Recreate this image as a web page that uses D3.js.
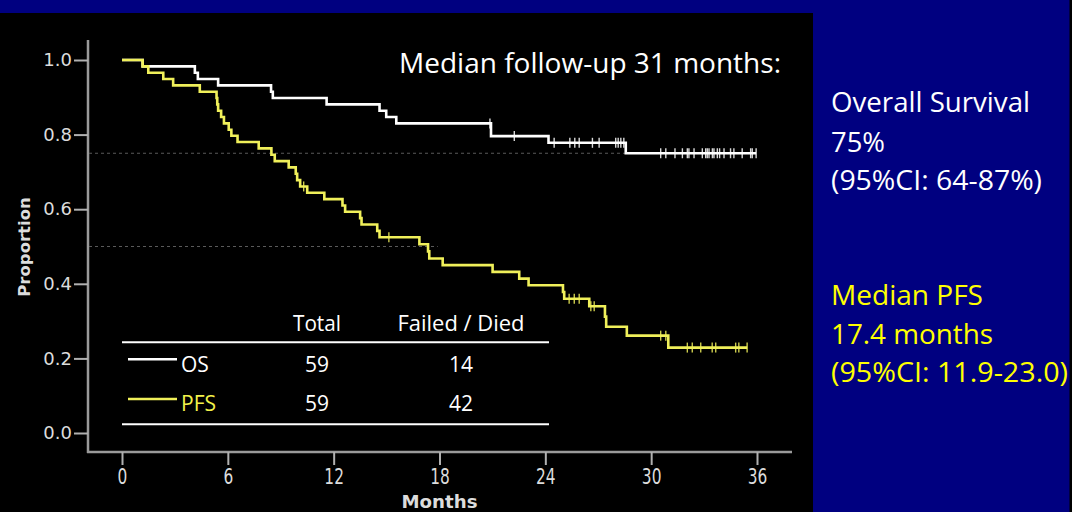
<!DOCTYPE html>
<html>
<head>
<meta charset="utf-8">
<script src="https://cdn.jsdelivr.net/npm/d3@7"></script>
<style>
  html, body { margin: 0; padding: 0; background: #000080; }
  svg { display: block; }
</style>
</head>
<body>
<svg id="chart" width="1072" height="512"></svg>
<script>
// Axis ticks
const monthTicks = [0, 6, 12, 18, 24, 30, 36];
const proportionTicks = [0, 0.2, 0.4, 0.6, 0.8, 1.0];

// Overall survival: Kaplan-Meier steps (months, proportion surviving)
const osTimes    = [0, 1.17, 4.13, 4.30, 5.45, 8.45, 8.55, 11.60, 14.60, 14.98, 15.55, 20.92, 24.18, 28.56];
const osSurvival = [1.000, 0.983, 0.966, 0.949, 0.932, 0.915, 0.898, 0.881, 0.864, 0.847, 0.830, 0.796, 0.778, 0.750];
const osLastFollowUp = 35.95;
const osCensored = [20.86, 22.24, 24.50, 25.39, 25.67, 25.92, 26.67, 27.05, 27.99, 28.13, 28.28, 28.45,
                    30.54, 30.83, 31.35, 31.77, 32.05, 32.14, 32.43, 32.90, 33.09, 33.18, 33.28, 33.47,
                    33.56, 33.75, 33.88, 34.13, 34.50, 34.69, 35.16, 35.64, 35.73, 35.95];

// Progression-free survival: Kaplan-Meier steps
const pfsTimes    = [0, 1.17, 1.49, 2.34, 2.90, 4.41, 5.36, 5.40, 5.45, 5.62, 5.78, 6.05, 6.20, 6.55,
                     7.75, 8.47, 8.66, 9.45, 9.85, 9.93, 10.10, 10.50, 11.47, 12.50, 12.65, 13.50, 13.58,
                     14.47, 14.60, 16.86, 17.35, 17.42, 18.18, 21.01, 22.52, 23.05, 25.00, 25.07, 26.49,
                     27.38, 27.45, 28.62, 30.97];
const pfsSurvival = [1.000, 0.983, 0.966, 0.949, 0.932, 0.915, 0.898, 0.881, 0.864, 0.847, 0.830, 0.813, 0.797, 0.780,
                     0.763, 0.746, 0.729, 0.712, 0.695, 0.678, 0.661, 0.644, 0.627, 0.610, 0.593, 0.576, 0.559,
                     0.542, 0.525, 0.506, 0.487, 0.468, 0.450, 0.432, 0.414, 0.396, 0.378, 0.360, 0.340,
                     0.312, 0.285, 0.261, 0.229];
const pfsLastFollowUp = 35.44;
const pfsCensored = [10.30, 15.13, 25.35, 25.64, 25.92, 26.58, 26.77, 30.54, 30.83,
                     32.05, 32.33, 32.81, 33.46, 33.66, 34.79, 34.97, 35.44];

// Dotted guides: survival level and where each guide stops (months)
const guideLevels = [0.75, 0.5];
const guideEnds = [28.56, 17.9];

// Summary table
const tableSeries = ["OS", "PFS"];
const tableTotal = [59, 59];
const tableFailed = [14, 42];
const tableHeaders = ["Total", "Failed / Died"];

// Annotations
const headline = "Median follow-up 31 months:";
const osSummary = ["Overall Survival", "75%", "(95%CI: 64-87%)"];
const pfsSummary = ["Median PFS", "17.4 months", "(95%CI: 11.9-23.0)"];

const osColor = "#ffffff";
const pfsColor = "#f0f05a";
const calloutFont = "'Open Sans', 'Noto Sans', sans-serif";
const axisFont = "'DejaVu Sans', sans-serif";

const svg = d3.select("#chart");

// Backgrounds: navy slide, black chart panel
svg.append("rect").attr("width", 1072).attr("height", 512).attr("fill", "#000080");
svg.append("rect").attr("x", 0).attr("y", 13).attr("width", 813).attr("height", 499).attr("fill", "#000");
svg.append("rect").attr("x", 1069.5).attr("y", 0).attr("width", 2.5).attr("height", 512).attr("fill", "#000");

const x = d3.scaleLinear().domain([0, 36]).range([122, 757]);
const y = d3.scaleLinear().domain([0, 1]).range([433, 60]);

// Axis frame
svg.append("line").attr("x1", 88).attr("x2", 88).attr("y1", 40).attr("y2", 453)
  .attr("stroke", "#9a9a9a").attr("stroke-width", 2.5);
svg.append("line").attr("x1", 87).attr("x2", 792).attr("y1", 452).attr("y2", 452)
  .attr("stroke", "#9a9a9a").attr("stroke-width", 2.5);

const gy = svg.append("g").attr("transform", "translate(88,0)")
  .call(d3.axisLeft(y).tickValues(proportionTicks).tickFormat(d3.format(".1f")).tickSize(14).tickPadding(2));
gy.select(".domain").remove();
gy.selectAll(".tick line").attr("stroke", "#b0b0b0").attr("stroke-width", 2);
gy.selectAll(".tick text").attr("fill", "#dcdcdc")
  .style("font-family", axisFont).style("font-size", "18px");

// Month labels use a tall, narrow setting
const gx = svg.append("g").attr("transform", "translate(0,452)")
  .call(d3.axisBottom(x).tickValues(monthTicks).tickFormat(d3.format("d")).tickSize(13).tickPadding(4));
gx.select(".domain").remove();
gx.selectAll(".tick line").attr("stroke", "#b0b0b0").attr("stroke-width", 2);
gx.selectAll(".tick text").attr("fill", "#dcdcdc")
  .style("font-family", axisFont).style("font-size", "20.5px")
  .attr("textLength", d => String(d).length * 9.8)
  .attr("lengthAdjust", "spacingAndGlyphs");

// Axis titles
svg.append("text").attr("transform", "translate(30,247) rotate(-90)")
  .attr("text-anchor", "middle").attr("fill", "#dcdcdc")
  .style("font-family", axisFont).style("font-weight", "bold").style("font-size", "16.5px")
  .text("Proportion");
svg.append("text").attr("x", x(18)).attr("y", 508)
  .attr("text-anchor", "middle").attr("fill", "#dcdcdc")
  .style("font-family", axisFont).style("font-weight", "bold").style("font-size", "18px")
  .attr("textLength", 76).attr("lengthAdjust", "spacingAndGlyphs")
  .text("Months");

// Dotted guides at 75% OS and the PFS median
svg.append("g").selectAll("line").data(guideLevels).join("line")
  .attr("x1", 89).attr("x2", (d, i) => x(guideEnds[i]))
  .attr("y1", d => y(d)).attr("y2", d => y(d))
  .attr("stroke", "#5a5a5a").attr("stroke-width", 1).attr("stroke-dasharray", "3,3");

// Kaplan-Meier curves
const stepLine = d3.line().x(d => x(d[0])).y(d => y(d[1])).curve(d3.curveStepAfter);
function kmPoints(times, surv, end) {
  const pts = times.map((t, i) => [t, surv[i]]);
  pts.push([end, surv[surv.length - 1]]);
  return pts;
}
function survivalAt(times, surv, t) {
  return surv[Math.max(0, d3.bisectRight(times, t) - 1)];
}
function drawCurve(times, surv, end, censored, color) {
  const g = svg.append("g");
  g.append("path").datum(kmPoints(times, surv, end))
    .attr("d", stepLine).attr("fill", "none")
    .attr("stroke", color).attr("stroke-width", 2.6).attr("stroke-linejoin", "miter");
  g.selectAll("line.censor").data(censored).join("line").attr("class", "censor")
    .attr("x1", d => x(d)).attr("x2", d => x(d))
    .attr("y1", d => y(survivalAt(times, surv, d)) - 5)
    .attr("y2", d => y(survivalAt(times, surv, d)) + 5)
    .attr("stroke", color).attr("stroke-width", 1.4).attr("opacity", 0.85);
}
drawCurve(osTimes, osSurvival, osLastFollowUp, osCensored, osColor);
drawCurve(pfsTimes, pfsSurvival, pfsLastFollowUp, pfsCensored, pfsColor);

// Text helper: optional fitted width keeps the callouts to their measured extent
function label(str, px, py, size, color, opts = {}) {
  const t = svg.append("text").attr("x", px).attr("y", py)
    .attr("fill", color).attr("text-anchor", opts.anchor || "start")
    .style("font-family", calloutFont).style("font-size", size + "px")
    .text(str);
  if (opts.width) t.attr("textLength", opts.width).attr("lengthAdjust", "spacingAndGlyphs");
  return t;
}

label(headline, 399, 73, 27.5, "#ffffff", { width: 382 });

// Summary table
svg.append("g").selectAll("line").data([342.3, 424.3]).join("line")
  .attr("x1", 122).attr("x2", 549).attr("y1", d => d).attr("y2", d => d)
  .attr("stroke", "#ffffff").attr("stroke-width", 2);
label(tableHeaders[0], 317, 330.7, 21, "#ffffff", { anchor: "middle", width: 48 });
label(tableHeaders[1], 461, 330.7, 21, "#ffffff", { anchor: "middle", width: 127 });

const rowBaselines = [371.7, 411];
const rowLineY = [359.3, 399];
const rowColors = [osColor, pfsColor];
tableSeries.forEach((name, i) => {
  svg.append("line").attr("x1", 128).attr("x2", 177)
    .attr("y1", rowLineY[i]).attr("y2", rowLineY[i])
    .attr("stroke", rowColors[i]).attr("stroke-width", 2.5);
  label(name, 181, rowBaselines[i], 21, i === 0 ? "#ffffff" : "#f2f24a");
  label(String(tableTotal[i]), 317, rowBaselines[i], 21, "#ffffff", { anchor: "middle" });
  label(String(tableFailed[i]), 461, rowBaselines[i], 21, "#ffffff", { anchor: "middle" });
});

// Callouts on the right
const osWidths = [199, 54, 211];
const osBaselines = [112, 151.7, 189.5];
osSummary.forEach((s, i) => label(s, 831, osBaselines[i], 27, "#ffffff", { width: osWidths[i] }));
const pfsWidths = [152, 162, 237];
const pfsBaselines = [305, 344.3, 382];
pfsSummary.forEach((s, i) => label(s, 831, pfsBaselines[i], 27, "#ffff00", { width: pfsWidths[i] }));
</script>
</body>
</html>
